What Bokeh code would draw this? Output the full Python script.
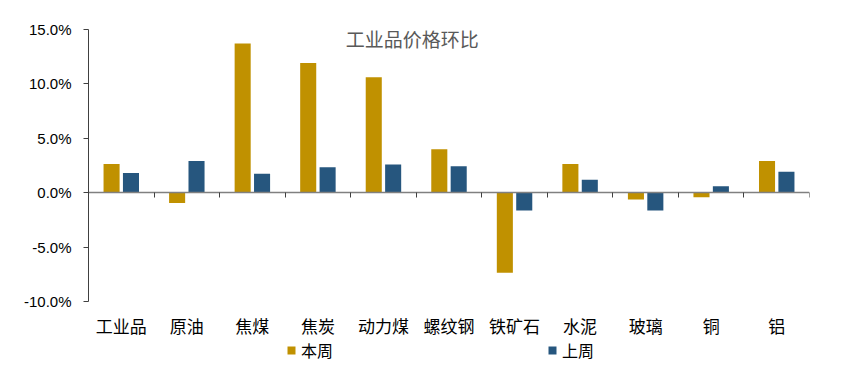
from bokeh.plotting import figure
from bokeh.models import (ColumnDataSource, FixedTicker, LinearAxis, Label, Legend, LegendItem,
                          Range1d, CustomJSTickFormatter)
from bokeh.core.properties import value
from bokeh.embed import file_html
from bokeh.resources import INLINE

categories = ["工业品", "原油", "焦煤", "焦炭", "动力煤", "螺纹钢", "铁矿石", "水泥", "玻璃", "铜", "铝"]
this_week = [2.63, -0.95, 13.71, 11.91, 10.62, 3.98, -7.37, 2.63, -0.64, -0.43, 2.91]
last_week = [1.81, 2.91, 1.74, 2.33, 2.60, 2.42, -1.65, 1.19, -1.65, 0.58, 1.93]
y_ticks = [-10, -5, 0, 5, 10, 15]
series_names = ["本周", "上周"]
colors = ["#C09100", "#26567E"]

idx = list(range(len(categories)))
src = ColumnDataSource(dict(
    x1=[i + 0.5 - 0.148 for i in idx],
    x2=[i + 0.5 + 0.148 for i in idx],
    xc=[i + 0.5 for i in idx],
    a=this_week, b=last_week, cat=categories,
))

# frame: 15% at y=29 px, 0% at 192 px, ~10.89 px per percent
p = figure(width=848, height=376, output_backend="svg", toolbar_location=None,
           x_range=Range1d(0, len(categories)), y_range=Range1d(-15.89, 15),
           min_border_left=88, min_border_right=39, min_border_top=29, min_border_bottom=11,
           x_axis_type=None, y_axis_type=None)
p.outline_line_color = None
p.grid.visible = False
p.background_fill_color = "white"

r1 = p.vbar(x="x1", top="a", bottom=0, width=0.245, source=src, fill_color=colors[0], line_color=None)
r2 = p.vbar(x="x2", top="b", bottom=0, width=0.245, source=src, fill_color=colors[1], line_color=None)

# y axis
yax = LinearAxis(ticker=FixedTicker(ticks=y_ticks), bounds=(-10, 15))
yax.formatter = CustomJSTickFormatter(code="return tick.toFixed(1) + '%';")
yax.axis_line_color = "#404040"
yax.major_tick_line_color = "#404040"
yax.major_tick_in = 0
yax.major_tick_out = 5
yax.minor_tick_line_color = None
yax.major_label_text_font = "Liberation Sans"
yax.major_label_text_font_size = "15px"
yax.major_label_text_color = "#000000"
yax.major_label_standoff = 12
p.add_layout(yax, "left")

# zero axis with boundary ticks
zax = LinearAxis(ticker=FixedTicker(ticks=list(range(len(categories) + 1))), fixed_location=0)
zax.axis_line_color = "#808080"
zax.axis_line_width = 1.5
zax.major_tick_line_color = "#404040"
zax.major_tick_in = 0
zax.major_tick_out = 5
zax.minor_tick_line_color = None
zax.major_label_text_alpha = 0
zax.major_label_text_font_size = "1px"
zax.major_label_standoff = 0
p.add_layout(zax, "below")

# category labels
p.text(x="xc", y=-12.2, text="cat", source=src, text_align="center", text_baseline="middle",
       text_font=value("Noto Sans CJK SC"), text_font_size="17px", text_color="#000000")

title = Label(x=4.94, y=14.2, text="工业品价格环比", text_align="center", text_baseline="middle",
              text_font="Noto Sans CJK SC", text_font_size="19px", text_color="#595959")
p.add_layout(title)

legend = Legend(items=[LegendItem(label=series_names[0], renderers=[r1]),
                       LegendItem(label=series_names[1], renderers=[r2])],
                orientation="horizontal", location=(198, 3))
legend.glyph_width = 10
legend.glyph_height = 10
legend.label_standoff = 5
legend.spacing = 214
legend.padding = 0
legend.margin = 0
legend.border_line_color = None
legend.background_fill_alpha = 0
legend.label_text_font = "Noto Sans CJK SC"
legend.label_text_font_size = "16px"
legend.label_text_color = "#000000"
p.add_layout(legend, "center")

open("out.html", "w").write(file_html(p, INLINE))
